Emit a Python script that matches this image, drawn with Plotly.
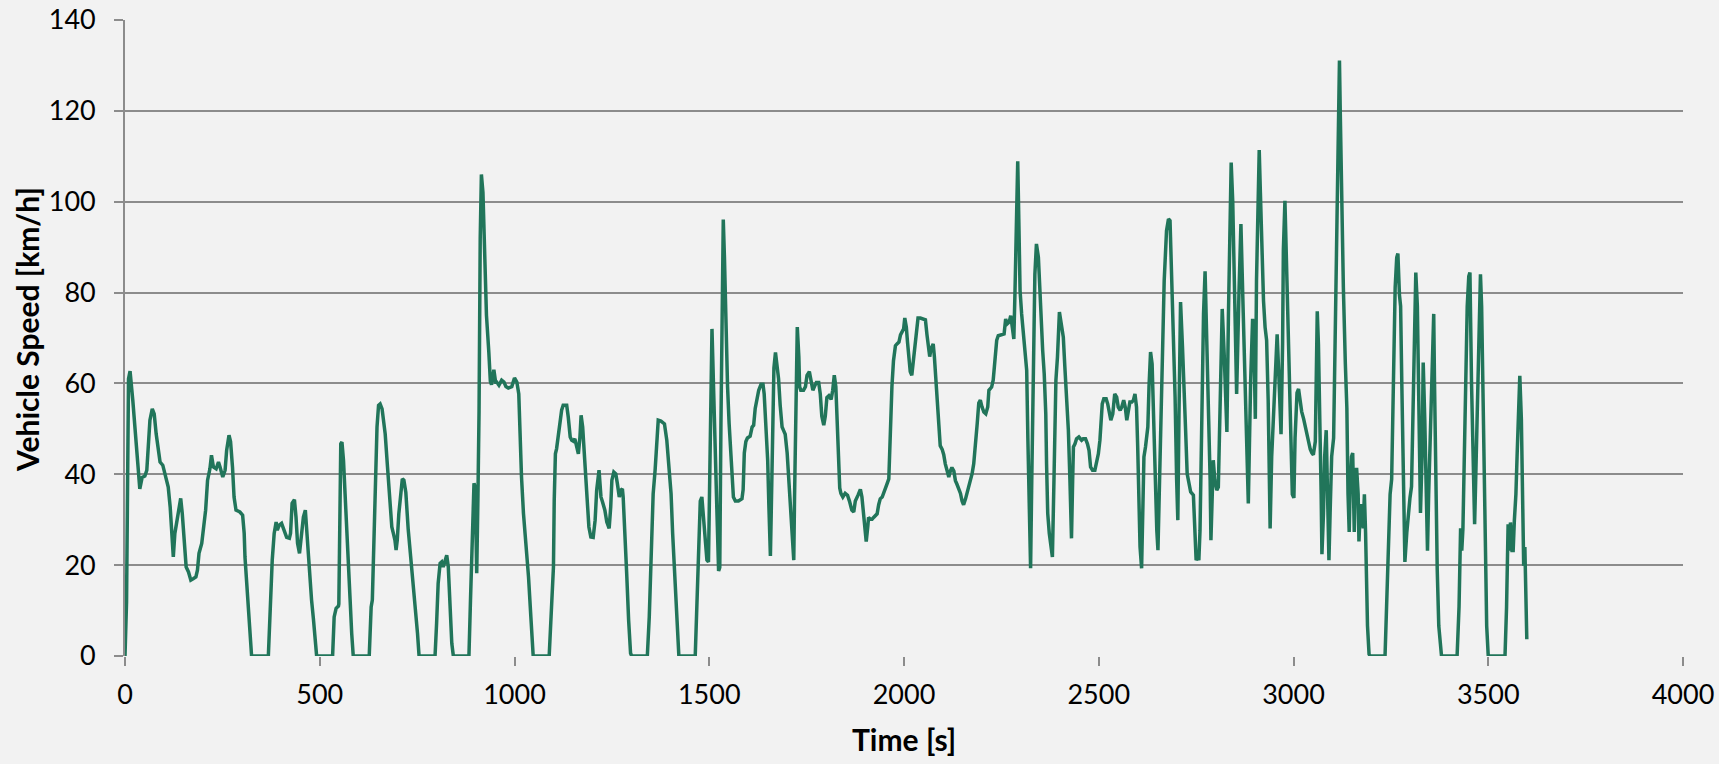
import plotly.graph_objects as go

time_s = [
    0, 4, 9, 13, 20, 28, 34, 38, 44, 51, 56, 60, 64, 70, 75, 80, 86, 90, 97, 103,
    111, 116, 120, 124, 128, 133, 139, 143, 147, 152, 157, 163, 169, 175, 182, 186, 190, 197, 201, 207,
    212, 218, 222, 227, 234, 240, 244, 251, 257, 261, 267, 271, 276, 280, 285, 295, 302, 306, 308, 312,
    317, 321, 325, 368, 372, 378, 383, 388, 391, 396, 402, 408, 415, 422, 425, 429, 435, 439, 443, 448,
    452, 458, 463, 466, 471, 475, 479, 484, 488, 492, 533, 537, 542, 548, 549, 554, 557, 561, 565, 569,
    573, 578, 582, 586, 627, 632, 635, 639, 644, 647, 651, 655, 660, 665, 668, 674, 679, 685, 689, 693,
    696, 699, 703, 708, 712, 716, 721, 727, 736, 745, 751, 755, 796, 800, 804, 809, 813, 817, 822, 826,
    830, 834, 839, 843, 883, 887, 893, 896, 899, 903, 906, 909, 912, 915, 919, 924, 928, 934, 938, 941,
    947, 952, 954, 960, 967, 973, 978, 984, 993, 1000, 1006, 1011, 1014, 1018, 1023, 1029, 1036, 1042, 1047, 1048,
    1089, 1093, 1098, 1100, 1102, 1105, 1108, 1113, 1117, 1121, 1125, 1134, 1138, 1143, 1147, 1151, 1155, 1160, 1164, 1168,
    1171, 1175, 1179, 1183, 1187, 1191, 1196, 1202, 1207, 1211, 1217, 1222, 1226, 1232, 1237, 1243, 1247, 1250, 1255, 1260,
    1264, 1269, 1273, 1277, 1279, 1284, 1288, 1293, 1298, 1301, 1341, 1346, 1350, 1352, 1356, 1361, 1365, 1369, 1376, 1385,
    1391, 1397, 1402, 1406, 1412, 1416, 1422, 1464, 1468, 1472, 1477, 1481, 1485, 1490, 1494, 1498, 1503, 1507, 1511, 1515,
    1520, 1524, 1527, 1530, 1533, 1536, 1539, 1543, 1547, 1551, 1554, 1558, 1562, 1567, 1575, 1584, 1587, 1590, 1594, 1598,
    1605, 1610, 1614, 1618, 1622, 1627, 1633, 1638, 1641, 1645, 1650, 1653, 1657, 1659, 1663, 1666, 1670, 1674, 1678, 1682,
    1687, 1691, 1695, 1700, 1704, 1708, 1712, 1717, 1719, 1723, 1726, 1730, 1732, 1735, 1742, 1747, 1751, 1757, 1761, 1766,
    1770, 1775, 1781, 1785, 1789, 1794, 1798, 1802, 1807, 1813, 1817, 1821, 1825, 1828, 1832, 1835, 1838, 1843, 1849, 1855,
    1860, 1866, 1871, 1875, 1882, 1888, 1892, 1896, 1901, 1903, 1907, 1909, 1914, 1918, 1922, 1926, 1931, 1935, 1939, 1944,
    1948, 1952, 1956, 1961, 1965, 1969, 1973, 1978, 1982, 1987, 1991, 1995, 1999, 2002, 2006, 2009, 2013, 2016, 2020, 2023,
    2027, 2030, 2033, 2036, 2042, 2051, 2055, 2059, 2063, 2066, 2069, 2075, 2078, 2081, 2083, 2087, 2089, 2093, 2098, 2102,
    2106, 2110, 2115, 2119, 2123, 2128, 2132, 2136, 2140, 2145, 2149, 2153, 2158, 2162, 2166, 2170, 2175, 2179, 2183, 2188,
    2192, 2196, 2200, 2205, 2210, 2215, 2218, 2225, 2229, 2234, 2238, 2242, 2251, 2257, 2261, 2265, 2270, 2274, 2278, 2282,
    2285, 2289, 2292, 2295, 2298, 2302, 2306, 2311, 2315, 2318, 2321, 2325, 2328, 2332, 2336, 2340, 2345, 2349, 2352, 2356,
    2360, 2364, 2366, 2369, 2373, 2377, 2381, 2385, 2390, 2394, 2399, 2405, 2409, 2413, 2418, 2422, 2426, 2430, 2433, 2435,
    2439, 2443, 2449,
    2456, 2460, 2466, 2471, 2475, 2479, 2484, 2490, 2495, 2499, 2503, 2506, 2509, 2513, 2519, 2523, 2527, 2531, 2536, 2541,
    2546, 2550, 2555, 2559, 2564, 2568, 2572, 2576, 2580, 2585, 2589, 2593, 2597, 2600, 2603, 2606, 2610, 2613, 2616, 2620,
    2626, 2629, 2633, 2637, 2640, 2644, 2649, 2652, 2656, 2660, 2664, 2668, 2674, 2679, 2683, 2687, 2692, 2696, 2700, 2703,
    2706, 2710, 2715, 2719, 2723, 2727, 2732, 2736, 2743, 2747, 2750, 2754, 2757, 2760, 2764, 2769, 2773, 2777, 2781, 2786,
    2788, 2792, 2794, 2798, 2803, 2807, 2811, 2817, 2822, 2826, 2829, 2833, 2837, 2840, 2844, 2850, 2854, 2860, 2865, 2871,
    2877, 2884, 2890, 2895, 2899, 2902, 2905, 2909, 2912, 2915, 2918, 2923, 2927, 2931, 2935, 2938, 2940, 2944, 2949, 2953,
    2958, 2963, 2968, 2972, 2974, 2978, 2981, 2985, 2989, 2993, 2997, 3001, 3004, 3009, 3013, 3017, 3021, 3026, 3030, 3034,
    3039, 3043, 3047, 3051, 3056, 3059, 3061, 3064, 3068, 3071, 3073, 3077, 3080, 3084, 3087, 3091, 3094, 3098, 3103, 3105,
    3109, 3113, 3115, 3118, 3120, 3122, 3125, 3128, 3133, 3137, 3140, 3143, 3145, 3149, 3152, 3156, 3159, 3162, 3166, 3168,
    3172, 3175, 3179, 3182, 3185, 3187, 3190, 3194, 3197, 3235, 3239, 3244, 3248, 3252, 3256, 3261, 3265, 3268, 3272, 3275,
    3278, 3282, 3286, 3291, 3295, 3299, 3303, 3308, 3312, 3314, 3318, 3322, 3326, 3330, 3333, 3337, 3340, 3344, 3347, 3352,
    3356, 3360, 3362, 3366, 3369, 3373, 3378, 3380, 3420, 3425, 3429, 3432, 3435, 3438, 3442, 3446, 3450, 3453, 3457, 3461,
    3465, 3468, 3472, 3476, 3480, 3483, 3487, 3491, 3496, 3500, 3543, 3547, 3551, 3555, 3557, 3561, 3564, 3567, 3571, 3574,
    3578, 3581, 3585, 3588, 3591, 3594, 3597, 3599,
]

speed_kmh = [
    0, 12, 61, 62.7, 56.3, 46.7, 41.6, 36.8, 39.3, 39.6, 40.9, 46, 51.9, 54.4, 53.3, 48.9, 44.5, 42.7, 42, 40.1,
    37.2, 32.8, 27, 21.8, 27, 29.9, 33.6, 34.7, 31.4, 25.5, 19.6, 18.5, 16.7, 17, 17.4, 18.9, 22.6, 24.8, 27.7, 32.1,
    38.7, 41.2, 44.2, 41.6, 41.2, 42.7, 41.6, 39.4, 40.9, 45.3, 48.6, 47.2, 41.6, 35, 32.1, 31.7, 31, 27, 21.8, 16.7,
    11.6, 5, 0, 0, 8.6, 21.1, 27, 29.5, 27.7, 28.8, 29.2, 27.7, 26.1, 25.9, 27, 33.6, 34.4, 30.6, 24.8, 22.6,
    25.5, 30.6, 32.1, 28.4, 21.1, 16, 12.3, 7.9, 2.8, 0, 0, 8.6, 10.5, 11, 11.5, 46.7, 47.1, 43, 35.7, 27,
    19.6, 12.3, 5, 0, 0, 10.8, 12.3, 27, 43, 50.4, 55.2, 55.5, 54.4, 50, 48.9, 41.6, 34.3, 28.4, 27, 25.5,
    23.3, 25.5, 31.3, 36.5, 39, 38.7, 36, 28, 19.6, 12.3, 5, 0, 0, 7.2, 16, 20.4, 20.7, 19.6, 21.5, 22.2,
    19.6, 12.3, 2.8, 0, 0, 12.3, 27, 38, 37.2, 18.2, 34.3, 54, 92, 106, 102, 89, 75, 67, 60.5, 59.7,
    63, 60, 60.3, 59.6, 60.7, 60.3, 59.3, 59, 59.3, 61.2, 60.3, 57.7, 48.9, 39.4, 31.4, 25.5, 17.4, 8.6, 0.6, 0,
    0, 7.2, 14.5, 19.6, 34.3, 44.5, 45.6, 48.9, 51.1, 54.1, 55.2, 55.2, 52.6, 48.2, 47.5, 47.3, 47.8, 46, 44.5, 48.2,
    53, 50.4, 45.3, 38, 32.8, 28.4, 26.2, 26.1, 29.9, 36.5, 40.9, 35, 33.9, 32.1, 29.5, 28.1, 32.8, 38.7, 40.5, 40.1,
    38, 35, 36.5, 36.8, 35, 27, 18.2, 7.9, 0.6, 0, 0, 8.6, 19.6, 30.6, 35.7, 40.9, 48.2, 51.9, 51.7, 51.1,
    47.5, 41.6, 35.7, 27, 16, 7.9, 0, 0, 10, 22, 34.1, 35, 30.9, 26.8, 21.1, 20.7, 51.2, 72, 59.3, 43.1,
    30.9, 18.7, 19.5, 51.2, 79.7, 96.1, 87.8, 71.5, 59.3, 51.2, 47.2, 42.3, 35, 34.1, 34.1, 34.6, 36.6, 44.7, 47.2, 48,
    48.4, 50.4, 50.8, 54.5, 56.1, 58.5, 59.8, 59.8, 57.7, 51.2, 43.1, 33.3, 22, 30.9, 51.2, 63.4, 66.8, 64.2, 61, 55.3,
    50.4, 49.6, 48.8, 44.7, 39, 33.3, 26.8, 21.1, 35, 59.3, 72.4, 65.9, 59.3, 58.5, 58.5, 59.3, 61.8, 62.6, 60.6, 58.5,
    59.3, 60.2, 60.2, 57.7, 52.8, 50.8, 52.8, 56.9, 57.3, 56.5, 58.5, 61.8, 59.3, 51.2, 43.1, 37, 35.8, 35, 35.8, 35.4,
    34.1, 32.1, 31.7, 34.1, 35.4, 36.7, 35, 30.9, 26.8, 25.2, 28.5, 30.5, 30.1, 30.1, 30.5, 30.9, 31.3, 33.3, 34.6, 35,
    35.8, 37, 37.8, 39, 51.2, 59.3, 65, 68.3, 68.7, 69.1, 70.7, 71.5, 72, 74.4, 72.4, 69.1, 64.2, 62.6, 61.8, 64.2,
    67.5, 70.7, 72.8, 74.4, 74.4, 74.1, 74, 70.7, 67.5, 65.9, 67.5, 68.7, 65.9, 61.8, 59.3, 55.3, 49.6, 46.3, 45.5, 44.3,
    42.3, 40.7, 39.4, 40.7, 41.5, 40.7, 38.6, 37.8, 37, 35.8, 34.1, 33.3, 34.6, 35.8, 37, 38.2, 40.2, 42.3, 45.5, 51.2,
    55.7, 56.3, 54.9, 53.7, 53.3, 54.8, 58.5, 59.2, 60.7, 65.1, 69.5, 70.5, 70.8, 70.9, 74.2, 73.1, 73.5, 74.9, 72.4, 69.8,
    80.4, 98.8, 108.9, 95, 80.4, 75.3, 70.9, 66.5, 62.9, 48, 31.4, 19.3, 38.7, 62, 84, 90.7, 87.8, 80.4, 73.1, 67.3,
    62.1, 53.3, 42.3, 31.4, 27, 24, 21.8, 38.7, 60.7, 65.8, 75.7, 72.4, 70.2, 63.6, 56.3, 49.7, 38.7, 25.9, 38.7, 46,
    46.7, 47.8, 48.2,
    47.5, 47.8, 47.8, 46.7, 45.3, 41.6, 40.9, 40.9, 43.1, 44.5, 47.5, 51.9, 55.5, 56.6, 56.6, 55.5, 53.3, 51.9, 53.3, 57.7,
    57, 54.8, 54.1, 54.8, 56.3, 54.8, 51.9, 54.1, 55.9, 55.9, 56.3, 57.7, 54.8, 46, 31.4, 24, 19.3, 31.4, 43.8, 46,
    50.4, 59.2, 66.9, 64.3, 53.3, 38.7, 27.7, 23.3, 37.2, 53.3, 71.6, 82.6, 93.6, 96.2, 95.8, 82.6, 73.1, 57, 38.7, 29.9,
    53.3, 77.9, 68, 60.7, 49.7, 40.1, 37.2, 36.1, 35.4, 27.7, 21.1, 21.8, 21.1, 27.7, 53.3, 75.3, 84.7, 71.6, 53.3, 38.7,
    25.5, 38.7, 43.1, 38.7, 36.5, 37.2, 57, 76.4, 66.5, 53.3, 49.3, 75.3, 97.3, 108.6, 100, 75.3, 57.7, 80, 95.1, 75.3,
    53.3, 33.6, 60.7, 74.2, 66, 52.2, 82.6, 100, 111.4, 102, 91.4, 78.2, 72.4, 69.5, 56.3, 40, 28.1, 43.9, 52.2, 60.4,
    70.8, 60.4, 48.8, 68.7, 89.4, 100.2, 89.4, 75.3, 64.6, 48, 35.6, 34.8, 48, 57.9, 58.8, 56.3, 53.8, 52.2, 50.5, 48.8,
    47.2, 45.5, 44.7, 44.3, 47.2, 63.7, 75.9, 68.7, 52.2, 35.6, 22.4, 31.5, 43.9, 49.7, 37.3, 21.1, 31.5, 43.9, 48, 60.4,
    85.3, 106.8, 122, 131.1, 120, 108, 100, 81.1, 64.6, 54.6, 35.6, 27.3, 35.6, 43.9, 44.7, 27.3, 39.7, 41.4, 35.6, 25.2,
    33.1, 33.1, 28.1, 35.6, 27.3, 14.9, 6.6, 0.4, 0, 0, 10.8, 27.3, 35.6, 38.9, 60.4, 81.1, 87.7, 88.6, 79.5, 77,
    60.4, 35.6, 20.7, 27.3, 31.5, 34.8, 37.3, 60.4, 83.6, 84.4, 77, 56.3, 31.5, 43.9, 64.6, 52.2, 35.6, 23.2, 35.6, 52.2,
    68.7, 75.3, 60.4, 35.6, 19, 6.6, 0.4, 0, 0, 10.8, 28.1, 23.2, 28.1, 43.9, 64.6, 77, 83.6, 84.4, 60.4, 43.9,
    29, 39.7, 56.3, 68.7, 84, 77, 52.2, 27.3, 6.6, 0, 0, 10.8, 29, 23.2, 29.4, 23.2, 23.2, 29.8, 35.6, 43.9,
    52.2, 61.7, 52.2, 31.5, 19.9, 24, 14.9, 3.7,
]

x_ticks = [0, 500, 1000, 1500, 2000, 2500, 3000, 3500, 4000]
y_ticks = [0, 20, 40, 60, 80, 100, 120, 140]

assert len(time_s) == len(speed_kmh), (len(time_s), len(speed_kmh))

GRID = "#8c8c8c"
BG = "#f2f2f2"
FONT = "Lato"

fig = go.Figure()
fig.add_trace(go.Scatter(
    x=time_s, y=speed_kmh, mode="lines",
    line=dict(color="#21755a", width=3.5),
    showlegend=False, hoverinfo="skip",
))

fig.update_layout(
    width=1719, height=764,
    paper_bgcolor=BG, plot_bgcolor=BG,
    margin=dict(l=125, r=36, t=20, b=108, autoexpand=False),
    font=dict(family=FONT, size=27, color="#000000"),
    annotations=[
        dict(text="<b>Time [s]</b>", xref="paper", yref="paper", x=0.5, y=0,
             xanchor="center", yanchor="middle", yshift=-83, showarrow=False,
             font=dict(family=FONT, size=30, color="#000000")),
        dict(text="<b>Vehicle Speed [km/h]</b>", xref="paper", yref="paper", x=0, y=0.5,
             xanchor="center", yanchor="middle", xshift=-98, yshift=8, textangle=-90,
             showarrow=False, font=dict(family=FONT, size=30, color="#000000")),
    ],
)
fig.update_xaxes(
    range=[0, 4000], tickvals=x_ticks, ticktext=[str(v) for v in x_ticks],
    showgrid=False, zeroline=False, automargin=False,
    showline=False, ticks="outside", ticklen=9, tickwidth=1.75, tickcolor=GRID,
    ticklabelstandoff=6,
    tickfont=dict(family=FONT, size=27),
)
fig.update_yaxes(
    range=[0, 140], tickvals=y_ticks, ticktext=[str(v) for v in y_ticks],
    showgrid=True, gridcolor=GRID, gridwidth=1.75, zeroline=False, automargin=False,
    showline=True, linecolor=GRID, linewidth=1.75,
    ticks="outside", ticklen=9, tickwidth=1.75, tickcolor=GRID,
    ticklabelstandoff=13,
    tickfont=dict(family=FONT, size=27),
)

fig.write_html("out.html", config={"displayModeBar": False},
               post_script="document.body.style.margin='0';")
